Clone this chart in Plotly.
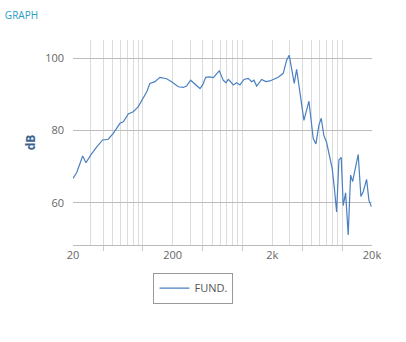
import plotly.graph_objects as go
import math

freq = [20, 21.8, 23.5, 25.0, 27.0, 30.1, 34.6, 39.7, 45.2, 50.7, 59.2, 63.9, 71.7, 80.5, 90.4,
        101, 110, 118, 133, 149, 174, 195, 228, 256, 276, 303, 335, 376, 400, 429, 473, 511,
        587, 643, 685, 722, 751, 811, 877, 946, 1038, 1146, 1240, 1308, 1392, 1562, 1726,
        1892, 2042, 2292, 2572, 2782, 2954, 3123, 3317, 3506, 3784, 4150, 4658, 5144, 5474,
        5868, 6188, 6586, 7010, 7564, 7978, 8354, 8832, 9312, 9820, 10284, 10870, 11542,
        12202, 12780, 13570, 14544, 15480, 16324, 17654, 18618, 19700]
fund_db = [66.8, 68.4, 70.9, 73.0, 71.1, 73.2, 75.5, 77.4, 77.6, 79.2, 82.0, 82.4, 84.6, 85.2, 86.6,
           88.9, 90.7, 93.0, 93.5, 94.7, 94.3, 93.5, 92.1, 91.9, 92.3, 93.9, 92.7, 91.6, 92.6, 94.7,
           94.8, 94.6, 96.5, 93.9, 93.2, 94.1, 93.7, 92.6, 93.2, 92.6, 94.1, 94.4, 93.5, 93.9, 92.3,
           94.1, 93.5, 93.7, 94.1, 94.7, 95.8, 99.4, 100.8, 96.7, 93.0, 96.9, 90.5, 82.8, 88.1,
           77.8, 76.3, 81.5, 83.4, 78.6, 76.7, 72.6, 69.5, 64.5, 57.5, 71.9, 72.6, 59.3, 62.8,
           51.2, 67.7, 65.9, 69.8, 73.4, 61.8, 63.1, 66.5, 60.8, 59.0]

grid_freqs = [d * 10 ** e for e in range(1, 4) for d in range(2 if e == 1 else 1, 10)] + [10000, 20000]
grid_freqs = [f for f in grid_freqs if f <= 20000]
label_map = {20: "20", 200: "200", 2000: "2k", 20000: "20k"}
grid_text = [label_map.get(f, "") for f in grid_freqs]
tick_mark_freqs = [40, 100, 400, 1000, 4000, 10000]
y_ticks = [60, 80, 100]

xr = [math.log10(20), math.log10(20000)]

fig = go.Figure()
fig.add_trace(go.Scatter(x=freq, y=fund_db, mode="lines", name="FUND.",
                         line=dict(color="#4a80c0", width=1.2), showlegend=True))
fig.add_trace(go.Scatter(x=[], y=[], xaxis="x2", showlegend=False, hoverinfo="skip"))

fig.update_layout(
    width=406, height=342,
    margin=dict(l=73, r=34, t=40, b=97),
    paper_bgcolor="white", plot_bgcolor="white",
    showlegend=True,
    font=dict(family="Open Sans", color="#666666", size=11),
    title=dict(text="GRAPH", x=0.012, xanchor="left", y=1 - 15 / 342, yanchor="middle",
               font=dict(family="Open Sans", size=10, color="#2a9cc8")),
    xaxis=dict(type="log", range=xr, tickmode="array", tickvals=grid_freqs, ticktext=grid_text,
               showgrid=True, gridcolor="#dcdcdc", gridwidth=1, ticks="",
               showline=True, linecolor="#bbbbbb", linewidth=1, zeroline=False,
               tickfont=dict(size=11, color="#666666")),
    xaxis2=dict(type="log", range=xr, overlaying="x", matches="x", tickmode="array",
                tickvals=tick_mark_freqs, showticklabels=False, ticks="outside", ticklen=5,
                tickcolor="#cccccc", showgrid=False, showline=False, zeroline=False, side="bottom"),
    yaxis=dict(range=[48.4, 105], tickmode="array", tickvals=y_ticks, showgrid=True,
               gridcolor="#bcbcbc", gridwidth=1, zeroline=False, showline=False, ticks="",
               ticklabelstandoff=8,
               title=dict(text="<b>dB</b>", font=dict(size=12, color="#3d6491"), standoff=6),
               tickfont=dict(size=11, color="#666666")),
    legend=dict(x=0.403, xanchor="center", y=-0.135, yanchor="top", orientation="h",
                bordercolor="#999999", borderwidth=1, bgcolor="white",
                font=dict(size=11, color="#555555"), itemwidth=30),
)

fig.write_html("out.html")
